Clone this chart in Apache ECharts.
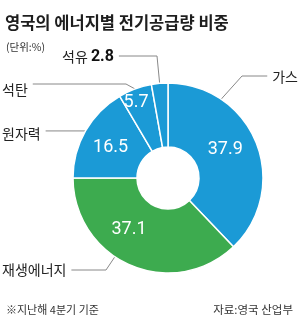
<!DOCTYPE html>
<html>
<head>
<meta charset="utf-8">
<script src="https://cdn.jsdelivr.net/npm/echarts@6/dist/echarts.min.js"></script>
<style>
html, body {margin: 0; padding: 0; background: #fff;}
#main {width: 300px; height: 317px;}
</style>
</head>
<body>
<div id="main"></div>
<script>
// 영국의 에너지별 전기공급량 비중 (단위 %, 지난해 4분기)
const names = ['가스', '재생에너지', '원자력', '석탄', '석유'];
const shares = [37.9, 37.1, 16.5, 5.7, 2.8];
const sliceColors = ['#1b9ad6', '#3dab4f', '#1b9ad6', '#1b9ad6', '#1b9ad6'];

const TXT = '#222';
const CX = 168, CY = 178, R0 = 31, R = 95;

// name label anchor, leader bend point, optional rim angle (deg from top) for the leader start
const leaders = [
    {x: 298, y: 77, align: 'right', bend: [242, 76], angle: 34},
    {x: 2, y: 270, align: 'left', bend: [106, 270], angle: 214},
    {x: 2, y: 134, align: 'left', bend: null},
    {x: 2, y: 90, align: 'left', bend: [126, 84]},
    {x: 62, y: 57, align: 'left', bend: [157, 56]}
];
// small nudges for value labels inside the ring
const valueNudge = [[-4, -4], [-13, -9], [0, 2], [-9, -14], [0, 0]];

const total = shares.reduce((a, b) => a + b, 0);
let acc = 0;
const midAngles = shares.map(v => {
    const m = (acc + v / 2) / total * 360;
    acc += v;
    return m;
});

function rimPoint(deg) {
    const a = deg * Math.PI / 180;
    return [CX + R * Math.sin(a), CY - R * Math.cos(a)];
}

const pieData = names.map((n, i) => ({
    name: n,
    value: shares[i],
    itemStyle: {color: sliceColors[i]}
}));

const chart = echarts.init(document.getElementById('main'));

chart.setOption({
    animation: false,
    title: [
        {
            text: '영국의 에너지별 전기공급량 비중',
            left: 0, top: 9,
            textStyle: {fontFamily: 'Noto Sans CJK KR', fontSize: 16.5, fontWeight: 'bold', color: '#1e1e1e'}
        },
        {
            text: '(단위:%)',
            left: 1, top: 37,
            textStyle: {fontFamily: 'Noto Sans CJK KR', fontSize: 10.5, fontWeight: 'normal', color: '#333'}
        },
        {
            text: '※지난해 4분기 기준',
            left: 1, top: 299,
            textStyle: {fontFamily: 'Noto Sans CJK KR', fontSize: 11, fontWeight: 'normal', color: '#333'}
        },
        {
            text: '자료:영국 산업부',
            right: 2, top: 299,
            textStyle: {fontFamily: 'Noto Sans CJK KR', fontSize: 11.5, fontWeight: 'normal', color: '#333'}
        }
    ],
    series: [
        {
            // ring + values
            type: 'pie',
            center: [CX, CY],
            radius: [R0, R],
            startAngle: 90,
            clockwise: true,
            silent: true,
            itemStyle: {borderColor: '#fff', borderWidth: 1.5},
            label: {
                show: true,
                position: 'inside',
                color: '#fff',
                fontFamily: 'Roboto',
                fontSize: 18,
                formatter: p => p.dataIndex === 4 ? '' : p.value.toFixed(1)
            },
            labelLine: {show: false},
            labelLayout: p => ({dx: valueNudge[p.dataIndex][0], dy: valueNudge[p.dataIndex][1]}),
            data: pieData
        },
        {
            // names with leader lines
            type: 'pie',
            center: [CX, CY],
            radius: [R0, R],
            startAngle: 90,
            clockwise: true,
            silent: true,
            itemStyle: {color: 'rgba(0,0,0,0)', borderWidth: 0},
            label: {
                show: true,
                position: 'outside',
                overflow: 'none',
                color: TXT,
                fontFamily: 'Noto Sans CJK KR',
                fontSize: 14,
                formatter: p => p.dataIndex === 4 ? p.name + ' {b|' + p.value.toFixed(1) + '}' : p.name,
                rich: {
                    b: {fontFamily: 'Roboto', fontWeight: 'bold', fontSize: 16, color: '#111'}
                }
            },
            labelLine: {show: true, lineStyle: {color: '#888', width: 1}},
            labelLayout: p => {
                const l = leaders[p.dataIndex];
                const w = p.labelRect.width;
                const start = rimPoint(l.angle != null ? l.angle : midAngles[p.dataIndex]);
                const bend = l.bend || start;
                const endX = l.align === 'left' ? l.x + w + 5 : l.x - w - 5;
                return {
                    x: l.x, y: l.y, align: l.align, verticalAlign: 'middle',
                    labelLinePoints: [start, bend, [endX, bend[1]]]
                };
            },
            data: pieData.map(d => ({name: d.name, value: d.value}))
        }
    ]
});
</script>
</body>
</html>
